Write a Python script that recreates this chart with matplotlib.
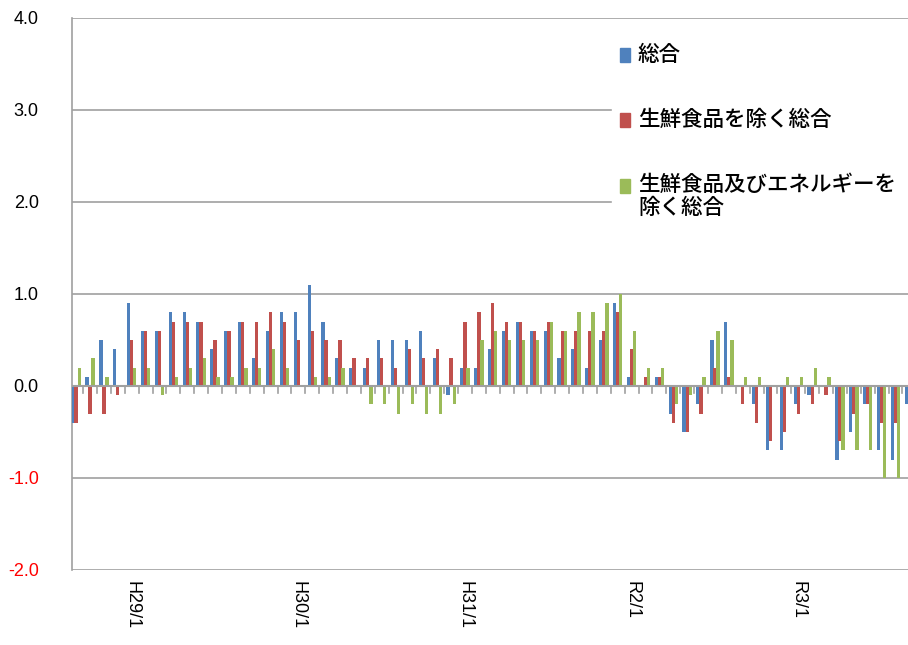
import numpy as np
import matplotlib.pyplot as plt

plt.rcParams['font.family'] = ['Noto Sans CJK JP', 'DejaVu Sans']

sogo = [-0.4, 0.1, 0.5, 0.4, 0.9, 0.6, 0.6, 0.8, 0.8, 0.7, 0.4, 0.6, 0.7, 0.3, 0.6, 0.8, 0.8, 1.1, 0.7, 0.3,
        0.2, 0.2, 0.5, 0.5, 0.5, 0.6, 0.3, -0.1, 0.2, 0.2, 0.4, 0.6, 0.7, 0.6, 0.6, 0.3, 0.4, 0.2, 0.5, 0.9,
        0.1, 0.0, 0.1, -0.3, -0.5, -0.2, 0.5, 0.7, 0.0, -0.2, -0.7, -0.7, -0.2, -0.1, 0.0, -0.8, -0.5, -0.2, -0.7, -0.8,
        -0.2]
core = [-0.4, -0.3, -0.3, -0.1, 0.5, 0.6, 0.6, 0.7, 0.7, 0.7, 0.5, 0.6, 0.7, 0.7, 0.8, 0.7, 0.5, 0.6, 0.5, 0.5,
        0.3, 0.3, 0.3, 0.2, 0.4, 0.3, 0.4, 0.3, 0.7, 0.8, 0.9, 0.7, 0.7, 0.6, 0.7, 0.6, 0.6, 0.6, 0.6, 0.8,
        0.4, 0.1, 0.1, -0.4, -0.5, -0.3, 0.2, 0.1, -0.2, -0.4, -0.6, -0.5, -0.3, -0.2, -0.1, -0.6, -0.3, -0.2, -0.4, -0.4,
        -0.3]
core_core = [0.2, 0.3, 0.1, 0.0, 0.2, 0.2, -0.1, 0.1, 0.2, 0.3, 0.1, 0.1, 0.2, 0.2, 0.4, 0.2, 0.0, 0.1, 0.1, 0.2,
             0.0, -0.2, -0.2, -0.3, -0.2, -0.3, -0.3, -0.2, 0.2, 0.5, 0.6, 0.5, 0.5, 0.5, 0.7, 0.6, 0.8, 0.8, 0.9, 1.0,
             0.6, 0.2, 0.2, -0.2, -0.1, 0.1, 0.6, 0.5, 0.1, 0.1, 0.0, 0.1, 0.1, 0.2, 0.1, -0.7, -0.7, -0.7, -1.0, -1.0,
             -0.5]
series_names = ['総合', '生鮮食品を除く総合', '生鮮食品及びエネルギーを\n除く総合']
colors = ['#4f81bd', '#c0504d', '#9bbb59']
tick_pos = [4, 16, 28, 40, 52]
tick_labels = ['H29/1', 'H30/1', 'H31/1', 'R2/1', 'R3/1']

fig = plt.figure(figsize=(9.08, 6.45), dpi=100)
ax = fig.add_axes([72 / 908, 75 / 645, 836 / 908, 552 / 645])

x = np.arange(len(sogo))
w = 0.24
for i, (vals, c) in enumerate(zip([sogo, core, core_core], colors)):
    ax.bar(x + (i - 1) * 0.22, vals, width=w, color=c, zorder=3)

yt = np.arange(-2, 4.01, 1.0)
ax.set_ylim(-2.0, 4.0)
ax.set_xlim(-0.3, 59.9)
ax.set_yticks(yt)
ax.set_yticklabels([f'{v:.1f}' for v in yt], fontsize=13, family=['Liberation Sans'])
for lab, v in zip(ax.get_yticklabels(), yt):
    if v < 0:
        lab.set_color('red')
ax.tick_params(axis='y', length=0, pad=24)
ax.grid(axis='y', color='#a0a0a0', linewidth=1.2, zorder=0)
for s in ['top', 'right', 'bottom']:
    ax.spines[s].set_visible(False)
ax.spines['left'].set_color('#a0a0a0')
ax.spines['left'].set_linewidth(1.2)

ax.axhline(0, color='#a0a0a0', linewidth=1.5, zorder=4)
for xm in np.arange(-0.5, 60, 1.0):
    ax.plot([xm, xm], [0, -0.08], color='#a0a0a0', linewidth=1.2, zorder=4)

ax.set_xticks(tick_pos)
ax.set_xticklabels(tick_labels, rotation=-90, fontsize=13, family=['Liberation Sans'])
ax.tick_params(axis='x', length=0, pad=8)

# legend drawn by hand, on white
fig.patches.append(plt.Rectangle((612 / 908, 1 - 230 / 645), 296 / 908, 200 / 645,
                                 transform=fig.transFigure, color='white', zorder=5))
leg_y = [55, 120, 186]
for name, c, yy in zip(series_names, colors, leg_y):
    fig.patches.append(plt.Rectangle((620 / 908, 1 - (yy + 7) / 645), 10 / 908, 14 / 645,
                                     transform=fig.transFigure, color=c, zorder=6))
    ty = 1 - (yy - 12) / 645 if '\n' in name else 1 - yy / 645
    fig.text(638 / 908, ty, name, fontsize=15.5, va='top' if '\n' in name else 'center',
             ha='left', zorder=7, linespacing=1.05, fontweight='medium')

fig.savefig('out.png', dpi=100)
